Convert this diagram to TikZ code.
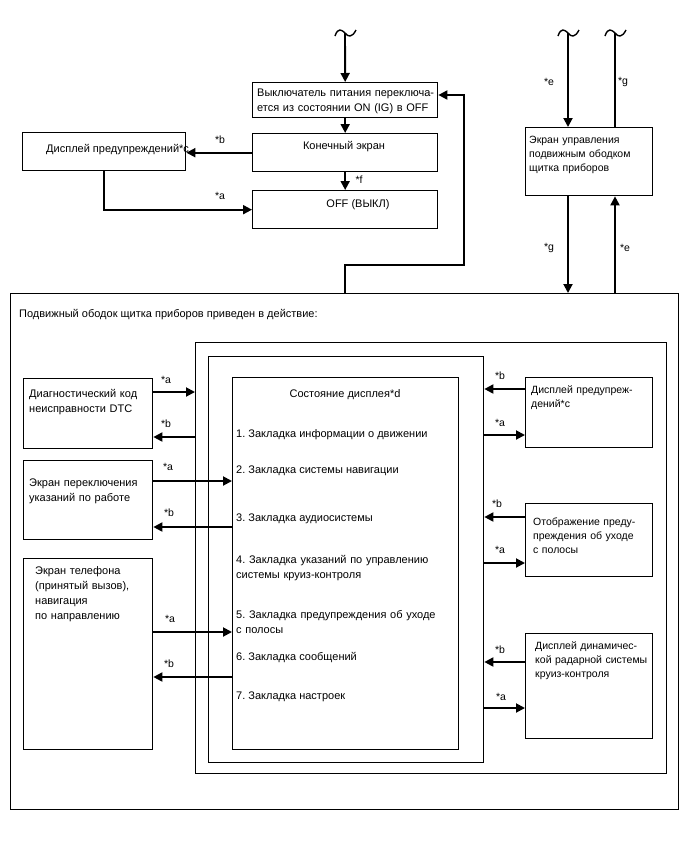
\documentclass[tikz,border=0pt]{standalone}
\usepackage{fontspec}
\setmainfont{Liberation Sans}
\usetikzlibrary{arrows.meta,calc}
\frenchspacing
\begin{document}
\begin{tikzpicture}[x=1pt,y=-1pt,
  box/.style={draw,line width=1.35pt,rectangle,inner sep=0pt,anchor=north west},
  conn/.style={line width=1.9pt},
  arr/.style={conn,-{Triangle[length=9pt,width=9pt]}},
  tilde/.style={line width=1.4pt},
  txt/.style={font=\fontsize{11}{15}\selectfont,inner sep=0pt,anchor=base west,align=left},
  rtxt/.style={txt,font=\fontsize{10.5}{14}\selectfont},
  ctxt/.style={font=\fontsize{11}{15}\selectfont,inner sep=0pt,anchor=base},
  lbl/.style={font=\fontsize{10.5}{12}\selectfont,inner sep=0pt}]
\useasboundingbox (0,0) rectangle (688,852);
% ---------- boxes ----------
\node[box,minimum width=185pt,minimum height=35pt] (b1) at (252,82) {};
\node[box,minimum width=185pt,minimum height=38pt] (b2) at (252,133) {};
\node[box,minimum width=185pt,minimum height=38pt] (b3) at (252,190) {};
\node[box,minimum width=163pt,minimum height=38pt] (warn) at (22,132) {};
\node[box,minimum width=127pt,minimum height=68pt] (ctl) at (525,127) {};
\node[box,minimum width=668pt,minimum height=516pt] (big) at (10,293) {};
\node[box,minimum width=471pt,minimum height=431pt] (sec) at (195,342) {};
\node[box,minimum width=275pt,minimum height=406pt] (thr) at (208,356) {};
\node[box,minimum width=226pt,minimum height=372pt] (inn) at (232,377) {};
\node[box,minimum width=129pt,minimum height=70pt] (dtc) at (23,378) {};
\node[box,minimum width=129pt,minimum height=79pt] (sw) at (23,460) {};
\node[box,minimum width=129pt,minimum height=191pt] (ph) at (23,558) {};
\node[box,minimum width=127pt,minimum height=70pt] (rw) at (525,377) {};
\node[box,minimum width=127pt,minimum height=73pt] (ld) at (525,503) {};
\node[box,minimum width=127pt,minimum height=105pt] (rc) at (525,633) {};
% ---------- texts ----------
\node[txt,text width=182pt] (t1) at (257,96) {Выключатель питания переключа-\\ется из состоянии ON (IG) в OFF};
\node[ctxt] (t2) at (344,149) {Конечный экран};
\node[ctxt] (t3) at (358,207) {OFF (ВЫКЛ)};
\node[txt] (t4) at (46,152) {Дисплей предупреждений*c};
\node[rtxt,text width=125pt] (t5) at (529,143) {Экран управления\\подвижным ободком\\щитка приборов};
\node[txt] (t6) at (19,317) {Подвижный ободок щитка приборов приведен в действие:};
\node[txt,text width=125pt] (t7) at (29,397) {Диагностический код\\неисправности DTC};
\node[txt,text width=125pt] (t8) at (29,486) {Экран переключения\\указаний по работе};
\node[txt,text width=115pt] (t9) at (35,574) {Экран телефона\\(принятый вызов),\\навигация\\по направлению};
\node[rtxt,text width=125pt] (t10) at (531,393) {Дисплей предупреж-\\дений*c};
\node[rtxt,text width=125pt] (t11) at (533,525) {Отображение преду-\\преждения об уходе\\с полосы};
\node[rtxt,text width=125pt] (t12) at (535,649) {Дисплей динамичес-\\кой радарной системы\\круиз-контроля};
\node[ctxt] (s0) at (345,397) {Состояние дисплея*d};
\node[txt] (s1) at (236,437) {1. Закладка информации о движении};
\node[txt] (s2) at (236,473) {2. Закладка системы навигации};
\node[txt] (s3) at (236,521) {3. Закладка аудиосистемы};
\node[txt,text width=218pt] (s4) at (236,563) {4. Закладка указаний по управлению\\системы круиз-контроля};
\node[txt,text width=218pt] (s5) at (236,618) {5. Закладка предупреждения об уходе\\с полосы};
\node[txt] (s6) at (236,660) {6. Закладка сообщений};
\node[txt] (s7) at (236,699) {7. Закладка настроек};
% ---------- tildes ----------
\coordinate (tl) at (345,33);
\coordinate (te) at (568,33);
\coordinate (tg) at (615,33);
\foreach \c in {tl,te,tg}{
  \draw[tilde] ($(\c)+(-10,3)$) .. controls ($(\c)+(-7,-6)$) and ($(\c)+(-3,-3)$) .. (\c)
     .. controls ($(\c)+(3,4)$) and ($(\c)+(7,5)$) .. ($(\c)+(11,-3)$);
}
% ---------- top connectors ----------
\draw[arr] (tl) -- (b1.north);
\draw[arr] (b1.south) -- (b2.north);
\draw[arr] (b2.south) -- (b3.north);
\draw[arr] (b2.west) -- (b2.west -| warn.east);
\draw[arr] (warn.south) |- (b3.west);
\coordinate (fb) at (464,95);
\draw[arr] (big.north -| b1.south) |- (fb |- 0,265) -- (fb) -- (fb -| b1.east);
\draw[arr] (te) -- (te |- ctl.north);
\draw[conn] (tg |- ctl.north) -- (tg);
\draw[arr] (te |- ctl.south) -- (te |- big.north);
\draw[arr] (tg |- big.north) -- (tg |- ctl.south);
\node[lbl] (la1) at (220,140) {*b};
\node[lbl] (la2) at (220,196) {*a};
\node[lbl] (la3) at (359,180) {*f};
\node[lbl] (la4) at (549,82) {*e};
\node[lbl] (la5) at (623,82) {*g};
\node[lbl] (la6) at (549,248) {*g};
\node[lbl] (la7) at (625,248) {*e};
% ---------- left connectors ----------
\draw[arr] (dtc.east |- 0,392) -- (sec.west |- 0,392);
\draw[arr] (sec.west |- 0,437) -- (dtc.east |- 0,437);
\draw[arr] (sw.east |- 0,481) -- (inn.west |- 0,481);
\draw[arr] (inn.west |- 0,527) -- (sw.east |- 0,527);
\draw[arr] (ph.east |- 0,632) -- (inn.west |- 0,632);
\draw[arr] (inn.west |- 0,677) -- (ph.east |- 0,677);
\node[lbl] (lb1) at (166,380) {*a};
\node[lbl] (lb2) at (166,424) {*b};
\node[lbl] (lb3) at (168,467) {*a};
\node[lbl] (lb4) at (169,513) {*b};
\node[lbl] (lb5) at (170,619) {*a};
\node[lbl] (lb6) at (169,664) {*b};
% ---------- right connectors ----------
\draw[arr] (rw.west |- 0,389) -- (thr.east |- 0,389);
\draw[arr] (thr.east |- 0,435) -- (rw.west |- 0,435);
\draw[arr] (ld.west |- 0,517) -- (thr.east |- 0,517);
\draw[arr] (thr.east |- 0,563) -- (ld.west |- 0,563);
\draw[arr] (rc.west |- 0,662) -- (thr.east |- 0,662);
\draw[arr] (thr.east |- 0,708) -- (rc.west |- 0,708);
\node[lbl] (lc1) at (500,376) {*b};
\node[lbl] (lc2) at (500,423) {*a};
\node[lbl] (lc3) at (497,504) {*b};
\node[lbl] (lc4) at (500,550) {*a};
\node[lbl] (lc5) at (500,650) {*b};
\node[lbl] (lc6) at (501,697) {*a};
\end{tikzpicture}
\end{document}
